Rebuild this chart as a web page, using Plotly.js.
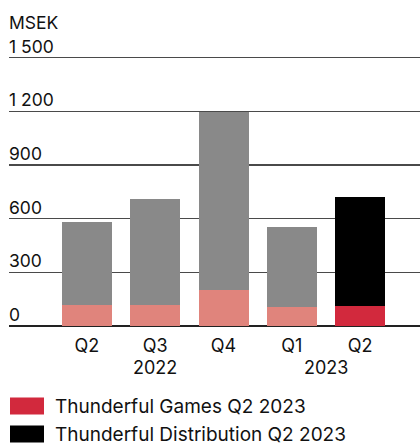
<!DOCTYPE html>
<html>
<head>
<meta charset="utf-8">
<script src="https://cdn.plot.ly/plotly-3.0.1.min.js"></script>
<style>html,body{margin:0;padding:0;background:#fff;}#chart{width:420px;height:445px;}</style>
</head>
<body>
<div id="chart"></div>
<script>
// Data
const quarters = ["Q2", "Q3", "Q4", "Q1", "Q2"];
const years = ["2022", "2023"];
const yearPositions = [1, 3.5];
const gamesValues = [115, 120, 199, 109, 110];
const distributionValues = [469, 588, 996, 447, 612];
const gamesColors = ["#e0847c", "#e0847c", "#e0847c", "#e0847c", "#d2293d"];
const distributionColors = ["#898989", "#898989", "#898989", "#898989", "#000000"];
const yTickValues = [0, 300, 600, 900, 1200, 1500];
const yTickLabels = ["0", "300", "600", "900", "1 200", "1 500"];
const unitLabel = "MSEK";
const legendLabels = ["Thunderful Games Q2 2023", "Thunderful Distribution Q2 2023"];
const legendColors = ["#d2293d", "#000000"];

const FONT = "Inter, 'Noto Sans', sans-serif";
const TXT = "#111111";
const xIdx = quarters.map((_, i) => i);

const traces = [
  {type: "bar", x: xIdx, y: gamesValues, marker: {color: gamesColors}, width: 0.732, showlegend: false, hoverinfo: "skip"},
  {type: "bar", x: xIdx, y: distributionValues, marker: {color: distributionColors}, width: 0.732, showlegend: false, hoverinfo: "skip"}
];

const annotations = [];
yTickValues.forEach((v, i) => {
  annotations.push({xref: "paper", yref: "y", x: 0, y: v, xanchor: "left", yanchor: "bottom",
    text: yTickLabels[i], showarrow: false, font: {family: FONT, size: 17.5, color: TXT}, yshift: -1, xshift: -2});
});
annotations.push({xref: "paper", yref: "y", x: 0, y: 1500, xanchor: "left", yanchor: "bottom",
  text: unitLabel, showarrow: false, font: {family: FONT, size: 17.5, color: TXT}, yshift: 23, xshift: -2});
years.forEach((t, i) => {
  annotations.push({xref: "x", yref: "paper", x: yearPositions[i], y: 0, xanchor: "center", yanchor: "middle",
    text: t, showarrow: false, font: {family: FONT, size: 18, color: TXT}, yshift: -41});
});
const shapes = [];
legendLabels.forEach((t, i) => {
  shapes.push({type: "rect", xref: "paper", yref: "paper", xsizemode: "pixel", ysizemode: "pixel",
    xanchor: 0, yanchor: 0, x0: 1, x1: 35, y0: -71.5 - 28 * i, y1: -88.5 - 28 * i,
    fillcolor: legendColors[i], line: {width: 0}});
  annotations.push({xref: "paper", yref: "paper", x: 0, y: 0, xanchor: "left", yanchor: "middle",
    text: t, showarrow: false, font: {family: FONT, size: 19, color: TXT}, xshift: 44, yshift: -80 - 28 * i});
});

const layout = {
  width: 420, height: 445,
  margin: {l: 9, r: 0, t: 56.2, b: 118.5, pad: 0},
  paper_bgcolor: "#fff", plot_bgcolor: "#fff",
  barmode: "stack",
  showlegend: false,
  font: {family: FONT, color: TXT},
  xaxis: {range: [-1.142, 4.878], tickvals: xIdx, ticktext: quarters, showgrid: false, zeroline: false,
    showline: false, ticks: "", ticklabelstandoff: 7, tickfont: {family: FONT, size: 18, color: TXT}, fixedrange: true},
  yaxis: {range: [0, 1510], tickvals: yTickValues, showticklabels: false, showgrid: true,
    gridcolor: "#4a4a4a", gridwidth: 1.3, zeroline: true, zerolinecolor: "#222", zerolinewidth: 1.6,
    showline: false, ticks: "", fixedrange: true},
  annotations: annotations,
  shapes: shapes
};

Plotly.newPlot("chart", traces, layout, {displayModeBar: false, staticPlot: true});
</script>
</body>
</html>
